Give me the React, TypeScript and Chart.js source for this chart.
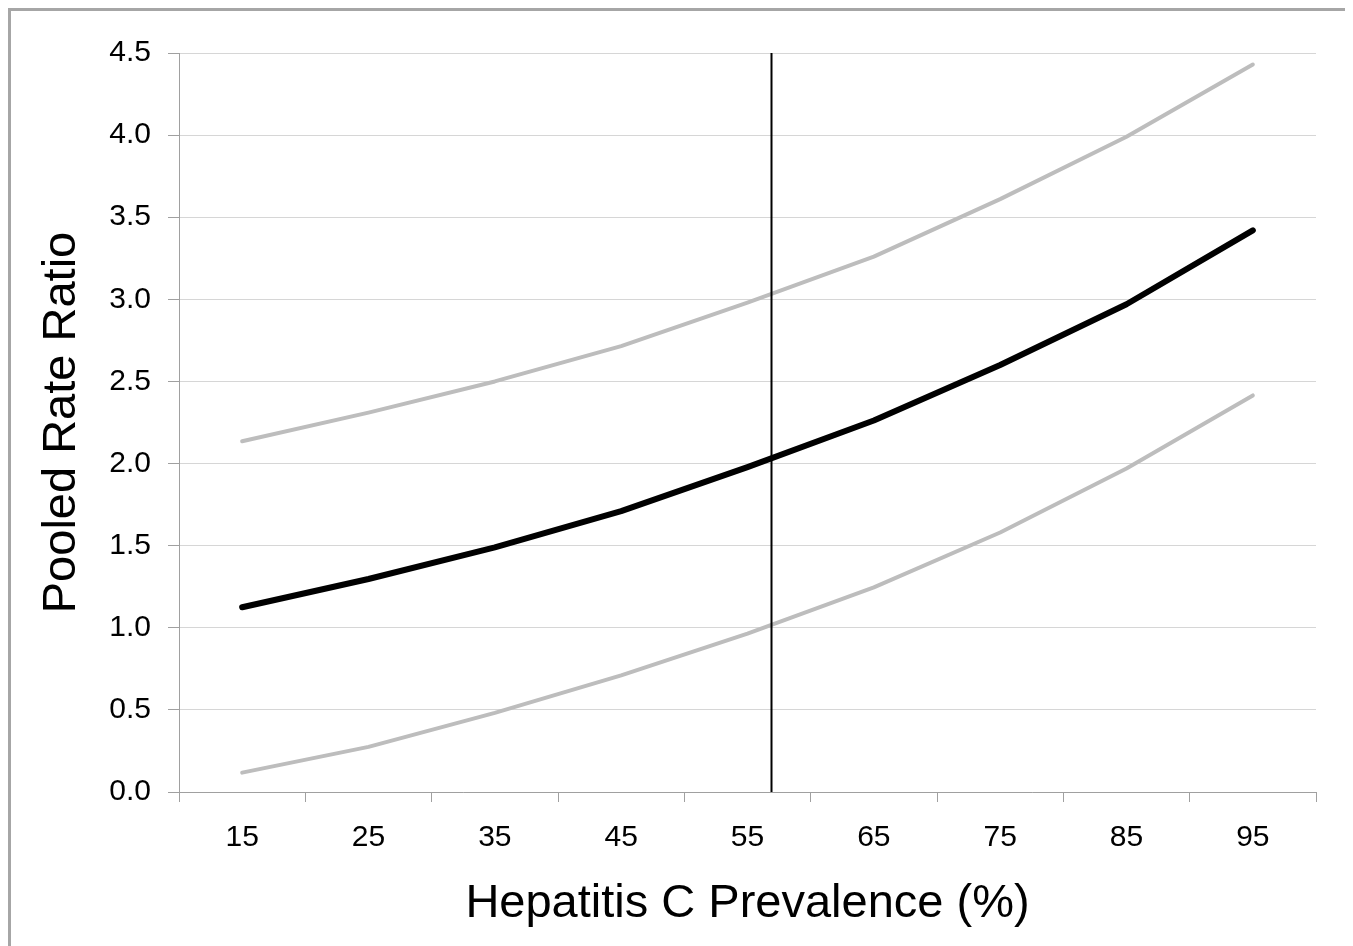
import React, { useEffect, useRef } from "react";
import { Chart, registerables } from "chart.js";

Chart.register(...registerables);

const prevalence = ["15", "25", "35", "45", "55", "65", "75", "85", "95"];
const pooledRR = [1.125, 1.297, 1.49, 1.71, 1.978, 2.262, 2.6, 2.97, 3.42];
const upperCI = [2.136, 2.31, 2.5, 2.715, 2.98, 3.26, 3.61, 3.99, 4.43];
const lowerCI = [0.118, 0.275, 0.482, 0.71, 0.965, 1.246, 1.58, 1.97, 2.415];
const cutoffPrevalence = 56.9;
const yTicks = [0, 0.5, 1.0, 1.5, 2.0, 2.5, 3.0, 3.5, 4.0, 4.5];

export default function App() {
  const canvasRef = useRef<HTMLCanvasElement | null>(null);

  useEffect(() => {
    const canvas = canvasRef.current;
    if (!canvas) return;
    const font = "'Liberation Sans', Arial, sans-serif";
    const chart = new Chart(canvas, {
      type: "line",
      data: {
        labels: prevalence,
        datasets: [
          {
            label: "cutoff",
            data: [
              { x: cutoffPrevalence, y: yTicks[0] },
              { x: cutoffPrevalence, y: yTicks[yTicks.length - 1] },
            ],
            xAxisID: "x2",
            borderColor: "#000000",
            borderWidth: 2,
            pointRadius: 0,
            tension: 0,
            order: 0,
          },
          {
            label: "Pooled",
            data: pooledRR,
            borderColor: "#000000",
            borderWidth: 6,
            borderCapStyle: "round",
            borderJoinStyle: "round",
            pointRadius: 0,
            tension: 0,
            order: 1,
          },
          {
            label: "Upper",
            data: upperCI,
            borderColor: "#bdbdbd",
            borderWidth: 4,
            borderCapStyle: "round",
            borderJoinStyle: "round",
            pointRadius: 0,
            tension: 0,
            order: 2,
          },
          {
            label: "Lower",
            data: lowerCI,
            borderColor: "#bdbdbd",
            borderWidth: 4,
            borderCapStyle: "round",
            borderJoinStyle: "round",
            pointRadius: 0,
            tension: 0,
            order: 2,
          },
        ],
      },
      options: {
        animation: false,
        responsive: true,
        maintainAspectRatio: false,
        layout: { padding: { top: 42, right: 29, bottom: 0, left: 0 } },
        plugins: {
          legend: { display: false },
          tooltip: { enabled: false },
          title: { display: false },
        },
        scales: {
          x: {
            type: "category",
            offset: true,
            grid: {
              offset: true,
              drawOnChartArea: false,
              drawTicks: true,
              tickLength: 10,
              tickColor: "#a0a0a0",
              color: "#a0a0a0",
            },
            border: { color: "#a0a0a0", width: 1 },
            ticks: {
              color: "#000000",
              font: { family: font, size: 30 },
              padding: 18,
              maxRotation: 0,
              autoSkip: false,
            },
            title: {
              display: true,
              text: "Hepatitis C Prevalence (%)",
              color: "#000000",
              font: { family: font, size: 47 },
              padding: { top: 0, bottom: 23 },
            },
            afterFit: (scale: any) => {
              scale.height = 163;
            },
          },
          x2: {
            type: "linear",
            display: false,
            min: 10,
            max: 100,
          },
          y: {
            type: "linear",
            min: 0,
            max: 4.5,
            afterBuildTicks: (scale: any) => {
              scale.ticks = yTicks.map((v) => ({ value: v }));
            },
            grid: {
              color: "#d6d6d6",
              tickColor: "#a0a0a0",
              tickLength: 11,
              drawTicks: true,
            },
            border: { color: "#a0a0a0", width: 1 },
            ticks: {
              color: "#000000",
              font: { family: font, size: 30 },
              padding: 17,
              callback: (v: any) => Number(v).toFixed(1),
            },
            title: {
              display: true,
              text: "Pooled Rate Ratio",
              color: "#000000",
              font: { family: font, size: 47 },
              padding: { top: 23, bottom: 0 },
            },
            afterFit: (scale: any) => {
              scale.width = 168;
            },
          },
        },
      },
    });
    return () => chart.destroy();
  }, []);

  return (
    <div
      style={{
        width: 1340,
        height: 950,
        border: "3px solid #a6a6a6",
        boxSizing: "border-box",
        background: "#ffffff",
        position: "relative",
      }}
    >
      <canvas ref={canvasRef} />
    </div>
  );
}
